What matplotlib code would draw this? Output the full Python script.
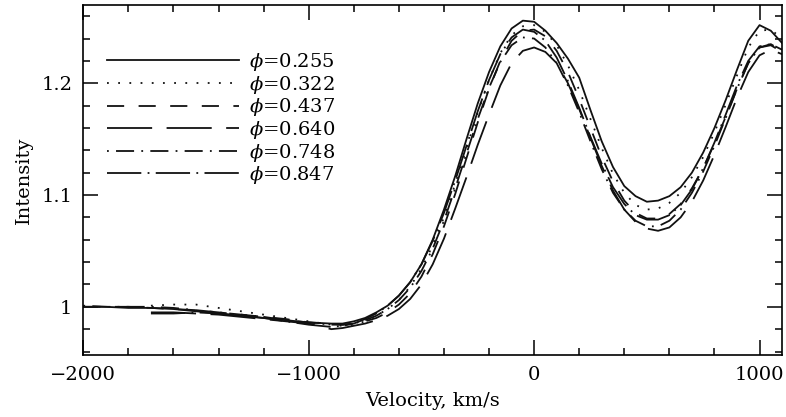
import numpy as np
import matplotlib
matplotlib.use("Agg")
import matplotlib.pyplot as plt
from matplotlib.ticker import MultipleLocator, FuncFormatter

plt.rcParams.update({
    "font.family": "serif",
    "font.serif": ["DejaVu Serif"],
    "mathtext.fontset": "dejavuserif",
    "font.size": 14,
})

nan = np.nan

# velocity grid, km/s
velocity = [-2000, -1900, -1800, -1700, -1600, -1500, -1400, -1300, -1200, -1100,
            -1000, -900, -850, -800, -750, -700, -650, -600, -550, -500, -450,
            -400, -350, -300, -250, -200, -150, -100, -50, 0, 50, 100, 150, 200,
            250, 300, 350, 400, 450, 500, 550, 600, 650, 700, 750, 800, 850, 900,
            950, 1000, 1050, 1100]

phase_labels = ["0.255", "0.322", "0.437", "0.640", "0.748", "0.847"]

p0255 = [1.000, 1.000, 0.999, 0.999, 0.998, 0.996, 0.994, 0.992, 0.990, 0.988,
         0.986, 0.985, 0.985, 0.987, 0.990, 0.995, 1.001, 1.010, 1.022, 1.038,
         1.060, 1.087, 1.117, 1.150, 1.182, 1.210, 1.233, 1.249, 1.256, 1.255,
         1.247, 1.236, 1.222, 1.205, 1.176, 1.148, 1.125, 1.108, 1.099, 1.094,
         1.095, 1.099, 1.107, 1.120, 1.138, 1.160, 1.185, 1.212, 1.238, 1.252,
         1.247, 1.236]
p0322 = [nan, nan, nan, 1.001, 1.002, 1.002, 0.999, 0.996, 0.993, 0.990,
         0.987, 0.984, 0.983, 0.984, 0.987, 0.992, 0.998, 1.006, 1.018, 1.034,
         1.055, 1.080, 1.110, 1.142, 1.174, 1.203, 1.227, 1.243, 1.251, 1.252,
         1.246, 1.234, 1.216, 1.194, 1.168, 1.142, 1.119, 1.102, 1.091, 1.087,
         1.088, 1.093, 1.102, 1.116, 1.134, 1.156, 1.181, 1.207, 1.232, 1.247,
         1.248, 1.240]
p0437 = [1.000, 1.000, 1.000, 0.999, 0.998, 0.997, 0.995, 0.993, 0.991, 0.989,
         0.986, 0.985, 0.984, 0.985, 0.987, 0.990, 0.995, 1.002, 1.012, 1.027,
         1.047, 1.072, 1.101, 1.133, 1.165, 1.195, 1.220, 1.238, 1.247, 1.248,
         1.242, 1.229, 1.210, 1.186, 1.160, 1.134, 1.112, 1.095, 1.084, 1.079,
         1.079, 1.083, 1.092, 1.106, 1.124, 1.146, 1.170, 1.195, 1.218, 1.232,
         1.235, 1.229]
p0640 = [nan, nan, nan, 0.995, 0.995, 0.994, 0.993, 0.991, 0.989, 0.987,
         0.985, 0.980, 0.981, 0.983, 0.985, 0.988, 0.992, 0.998, 1.007, 1.020,
         1.038, 1.061, 1.088, 1.116, 1.145, 1.172, 1.198, 1.218, 1.229, 1.232,
         1.228, 1.218, 1.200, 1.177, 1.151, 1.126, 1.104, 1.087, 1.076, 1.070,
         1.068, 1.071, 1.080, 1.094, 1.113, 1.136, 1.161, 1.187, 1.210, 1.225,
         1.230, 1.226]
p0748 = [1.001, 1.000, 1.000, 1.000, 0.999, 0.997, 0.995, 0.993, 0.991, 0.988,
         0.986, 0.984, 0.984, 0.985, 0.988, 0.992, 0.998, 1.006, 1.017, 1.032,
         1.052, 1.077, 1.106, 1.137, 1.168, 1.196, 1.219, 1.234, 1.241, 1.240,
         1.232, 1.218, 1.198, 1.174, 1.148, 1.123, 1.102, 1.087, 1.077, 1.072,
         1.072, 1.077, 1.087, 1.102, 1.121, 1.144, 1.169, 1.195, 1.218, 1.232,
         1.234, 1.228]
p0847 = [nan, nan, nan, 0.994, 0.994, 0.995, 0.994, 0.992, 0.990, 0.987,
         0.984, 0.982, 0.983, 0.985, 0.989, 0.994, 1.001, 1.010, 1.022, 1.038,
         1.059, 1.084, 1.113, 1.144, 1.175, 1.203, 1.226, 1.241, 1.248, 1.246,
         1.238, 1.223, 1.202, 1.178, 1.152, 1.128, 1.107, 1.092, 1.082, 1.078,
         1.078, 1.082, 1.091, 1.105, 1.124, 1.147, 1.172, 1.198, 1.220, 1.233,
         1.235, 1.230]

profiles = [p0255, p0322, p0437, p0640, p0748, p0847]
styles = ["-", (0, (1.0, 5.2)), (0, (9.5, 8)), (0, (25, 8)),
          (0, (1.0, 4, 10, 4)), (0, (19, 3.5, 1.0, 3.5))]

fig = plt.figure(figsize=(7.86, 4.17), dpi=100)
ax = fig.add_axes([0.106, 0.149, 0.889, 0.839])

for vals, ls, lab in zip(profiles, styles, phase_labels):
    ax.plot(velocity, vals, color="#111111", lw=1.3, ls=ls,
            label=r"$\phi$=" + lab)

ax.set_xlim(-2000, 1100)
ax.set_ylim(0.957, 1.27)
ax.xaxis.set_major_locator(MultipleLocator(1000))
ax.xaxis.set_minor_locator(MultipleLocator(200))
ax.yaxis.set_major_locator(MultipleLocator(0.1))
ax.yaxis.set_minor_locator(MultipleLocator(0.02))
ax.yaxis.set_major_formatter(FuncFormatter(lambda y, p: f"{y:g}"))
ax.xaxis.set_major_formatter(FuncFormatter(lambda x, p: f"{x:g}".replace("-", "\u2212")))
ax.tick_params(which="both", direction="in", top=True, right=True, width=1.1)
ax.tick_params(which="major", length=11, pad=8)
ax.tick_params(which="minor", length=5)
for s in ax.spines.values():
    s.set_linewidth(1.2)

ax.set_xlabel("Velocity, km/s", labelpad=6)
ax.set_ylabel("Intensity", labelpad=6)

ax.legend(loc="upper left", bbox_to_anchor=(0.034, 0.868), frameon=False,
          handlelength=6.8, handletextpad=0.5, labelspacing=0.03,
          borderpad=0, borderaxespad=0, fontsize=14)

fig.savefig("out.png", dpi=100)
